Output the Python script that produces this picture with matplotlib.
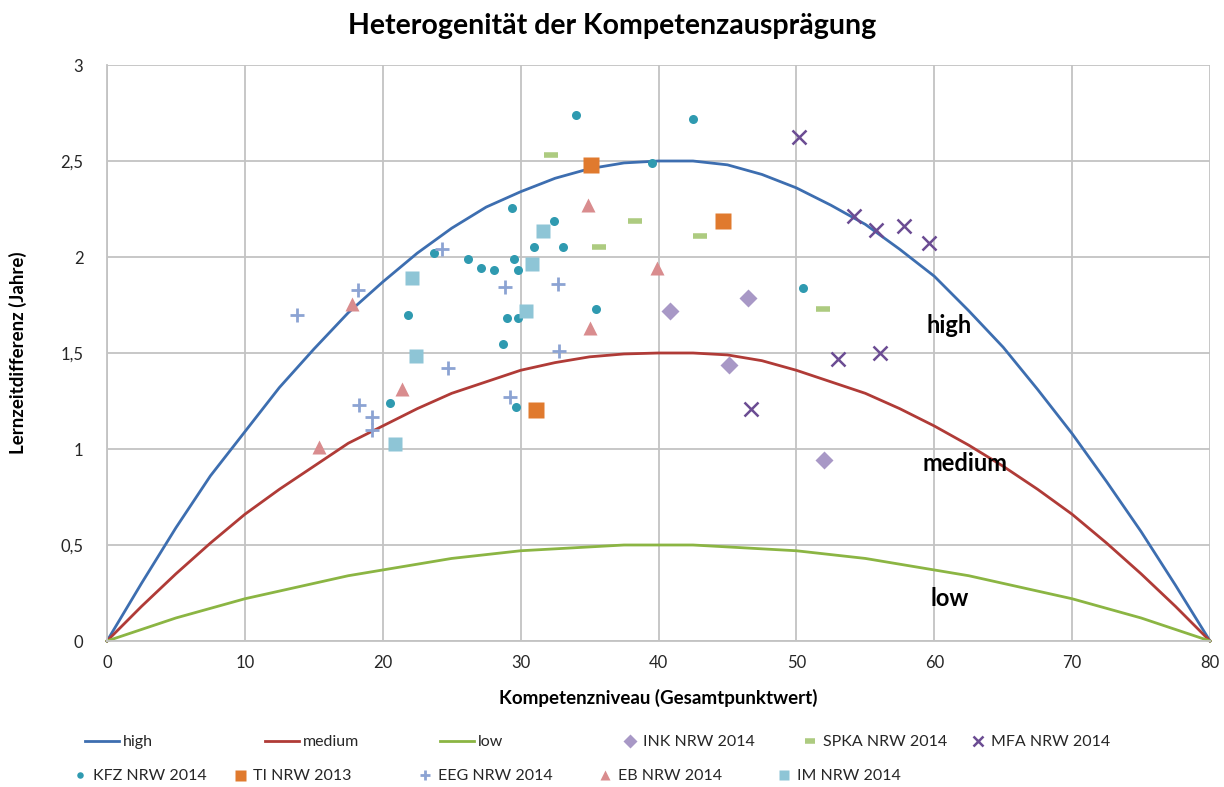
import matplotlib
matplotlib.use("Agg")
import matplotlib.pyplot as plt

plt.rcParams['font.family'] = ['Lato', 'DejaVu Sans']

# ---- curve data ----
curve_x = [0, 2.5, 5, 7.5, 10, 12.5, 15, 17.5, 20, 22.5, 25, 27.5, 30, 32.5, 35, 37.5,
           40, 42.5, 45, 47.5, 50, 52.5, 55, 57.5, 60, 62.5, 65, 67.5, 70, 72.5, 75, 77.5, 80]
high_y = [0, 0.30, 0.59, 0.86, 1.09, 1.32, 1.52, 1.71, 1.87, 2.02, 2.15, 2.26, 2.34, 2.41, 2.46, 2.49,
          2.50, 2.50, 2.48, 2.43, 2.36, 2.27, 2.17, 2.04, 1.90, 1.72, 1.53, 1.31, 1.08, 0.83, 0.57, 0.29, 0]
medium_y = [0, 0.18, 0.35, 0.51, 0.66, 0.79, 0.91, 1.03, 1.12, 1.21, 1.29, 1.35, 1.41, 1.45, 1.48, 1.495,
            1.50, 1.50, 1.49, 1.46, 1.41, 1.35, 1.29, 1.21, 1.12, 1.02, 0.91, 0.79, 0.66, 0.51, 0.35, 0.18, 0]
low_y = [0, 0.06, 0.12, 0.17, 0.22, 0.26, 0.30, 0.34, 0.37, 0.40, 0.43, 0.45, 0.47, 0.48, 0.49, 0.50,
         0.50, 0.50, 0.49, 0.48, 0.47, 0.45, 0.43, 0.40, 0.37, 0.34, 0.30, 0.26, 0.22, 0.17, 0.12, 0.06, 0]

# ---- scatter data ----
kfz_x = [34.0, 42.5, 39.5, 29.4, 32.4, 31.0, 33.1, 23.7, 26.2, 29.5, 27.1, 28.1, 29.8, 35.5,
         21.8, 29.0, 29.8, 28.7, 29.7, 20.5, 50.5]
kfz_y = [2.74, 2.72, 2.49, 2.255, 2.185, 2.05, 2.05, 2.02, 1.99, 1.99, 1.945, 1.93, 1.93, 1.73,
         1.70, 1.68, 1.68, 1.545, 1.22, 1.24, 1.84]
ti_x = [35.1, 44.7, 31.1]
ti_y = [2.48, 2.185, 1.205]
eeg_x = [24.3, 28.9, 32.7, 18.2, 13.8, 32.8, 24.7, 29.2, 18.3, 19.2, 19.2]
eeg_y = [2.04, 1.845, 1.86, 1.83, 1.70, 1.51, 1.42, 1.27, 1.23, 1.165, 1.10]
eb_x = [34.9, 17.8, 35.0, 39.9, 21.4, 15.4]
eb_y = [2.27, 1.755, 1.63, 1.945, 1.315, 1.01]
im_x = [31.6, 30.8, 22.1, 30.4, 22.4, 20.9]
im_y = [2.135, 1.965, 1.89, 1.72, 1.485, 1.025]
spka_x = [32.2, 35.7, 38.3, 43.0, 51.9]
spka_y = [2.53, 2.05, 2.19, 2.11, 1.73]
ink_x = [46.5, 40.8, 45.1, 52.0]
ink_y = [1.785, 1.72, 1.435, 0.945]
mfa_x = [50.2, 54.2, 55.8, 57.8, 59.6, 53.0, 56.1, 46.7]
mfa_y = [2.625, 2.215, 2.14, 2.16, 2.075, 1.47, 1.50, 1.21]

x_ticks = [0, 10, 20, 30, 40, 50, 60, 70, 80]
y_ticks = [0, 0.5, 1, 1.5, 2, 2.5, 3]
y_tick_labels = ['0', '0,5', '1', '1,5', '2', '2,5', '3']

W, H = 1224, 787
fig = plt.figure(figsize=(W / 100, H / 100), dpi=100)
ax = fig.add_axes([107 / W, 146 / H, 1103 / W, 576 / H])

grid_c = '#c3c3c3'
ax.set_xlim(0, 80)
ax.set_ylim(0, 3)
ax.set_xticks(x_ticks)
ax.set_yticks(y_ticks)
ax.set_yticklabels(y_tick_labels)
ax.grid(True, color=grid_c, linewidth=1.3)
ax.set_axisbelow(True)
for s in ['top', 'right']:
    ax.spines[s].set_visible(False)
for s in ['left', 'bottom']:
    ax.spines[s].set_color(grid_c)
    ax.spines[s].set_linewidth(1.3)
ax.tick_params(axis='y', length=0, labelsize=12, pad=17)
ax.tick_params(axis='x', length=0, labelsize=12, pad=10)
for lbl in ax.get_xticklabels() + ax.get_yticklabels():
    lbl.set_color('#262626')

lw = 2.0
h_high, = ax.plot(curve_x, high_y, color='#3d6eb0', lw=lw, label='high', clip_on=False)
h_med, = ax.plot(curve_x, medium_y, color='#b03b37', lw=lw, label='medium', clip_on=False)
h_low, = ax.plot(curve_x, low_y, color='#8bb543', lw=lw, label='low', clip_on=False)

h_ink, = ax.plot(ink_x, ink_y, 'D', color='#a898c6', ms=9.5, mec='none', label='INK NRW 2014', ls='none')
h_spka, = ax.plot(spka_x, spka_y, '_', color='#adcb80', ms=10, mew=4, label='SPKA NRW 2014', ls='none')
h_mfa, = ax.plot(mfa_x, mfa_y, 'x', color='#6b4c93', ms=10, mew=1.8, label='MFA NRW 2014', ls='none')
h_kfz, = ax.plot(kfz_x, kfz_y, 'o', color='#2f9ab0', ms=6.5, mec='none', label='KFZ NRW 2014', ls='none')
h_ti, = ax.plot(ti_x, ti_y, 's', color='#e07a2e', ms=11, mec='none', label='TI NRW 2013', ls='none')
h_eeg, = ax.plot(eeg_x, eeg_y, '+', color='#8ca3d3', ms=10, mew=2, label='EEG NRW 2014', ls='none')
h_eb, = ax.plot(eb_x, eb_y, '^', color='#d98c8e', ms=10, mec='none', label='EB NRW 2014', ls='none')
h_im, = ax.plot(im_x, im_y, 's', color='#8ec5d6', ms=9.5, mec='none', label='IM NRW 2014', ls='none')

ax.text(61.1, 1.645, 'high', fontsize=17, fontweight='bold', ha='center', va='center')
ax.text(62.2, 0.925, 'medium', fontsize=17, fontweight='bold', ha='center', va='center')
ax.text(61.1, 0.22, 'low', fontsize=17, fontweight='bold', ha='center', va='center')

ax.set_xlabel('Kompetenzniveau (Gesamtpunktwert)', fontsize=13.5, fontweight='bold', labelpad=13)
ax.set_ylabel('Lernzeitdifferenz (Jahre)', fontsize=13.5, fontweight='bold', labelpad=24)

fig.text(0.5, 1 - 26 / H, 'Heterogenität der Kompetenzausprägung', fontsize=20.5, fontweight='bold',
         ha='center', va='center')

# legend: one small legend per entry, laid out in Excel-like slots
row1 = [h_high, h_med, h_low, h_ink, h_spka, h_mfa]
row1_left = [85, 265, 440, 622, 802, 970]
row2 = [h_kfz, h_ti, h_eeg, h_eb, h_im]
row2_left = [72, 232, 417, 597, 776]
leg_kw = dict(frameon=False, fontsize=11.5, handletextpad=0.3, borderaxespad=0, borderpad=0,
              loc='center left')
for handles, lefts, ypix in [(row1, row1_left, 742), (row2, row2_left, 776)]:
    for h, lx in zip(handles, lefts):
        is_line = h.get_linestyle() not in ('None', 'none', '')
        leg = fig.legend(handles=[h], bbox_to_anchor=(lx / W, 1 - ypix / H),
                         handlelength=2.1 if is_line else 1.0,
                         markerscale=1.0 if is_line else 0.72, **leg_kw)
        for t in leg.get_texts():
            t.set_color('#262626')

fig.savefig('out.png', dpi=100)
